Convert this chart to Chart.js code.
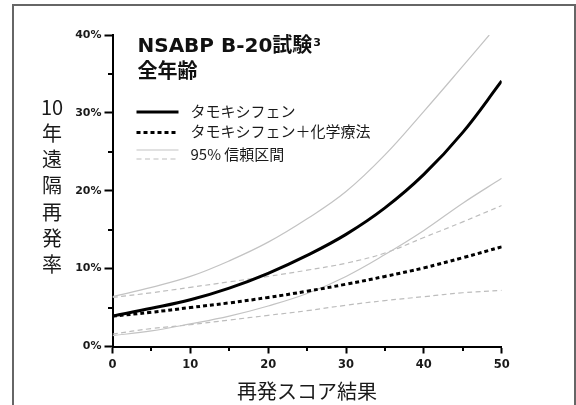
<!DOCTYPE html>
<html lang="ja">
<head>
<meta charset="utf-8">
<script src="https://cdn.jsdelivr.net/npm/chart.js@4/dist/chart.umd.min.js"></script>
<style>
  html, body { margin: 0; padding: 0; background: #fff; }
  #wrap { position: relative; width: 576px; height: 405px; overflow: hidden; }
  #frame { position: absolute; left: 12px; top: 4px; width: 560px; height: 440px;
           border: 2px solid #666; pointer-events: none; }
  canvas { position: absolute; left: 0; top: 0; }
</style>
</head>
<body>
<div id="wrap">
  <canvas id="c" width="576" height="405"></canvas>
  <div id="frame"></div>
</div>
<script>
// Recurrence Score and 10-year distant recurrence (NSABP B-20, all ages)
const scores = [0, 5, 10, 15, 20, 25, 30, 35, 40, 45, 50];
const tamoxifen = [3.9, 4.9, 6.0, 7.5, 9.4, 11.7, 14.4, 17.8, 22.1, 27.5, 34.1];
const tamChemo = [3.9, 4.4, 5.0, 5.6, 6.3, 7.1, 8.0, 9.0, 10.1, 11.4, 12.8];
const tamUpperScores = [0, 5, 10, 15, 20, 25, 30, 35, 40, 45, 48.4];
const tamUpper = [6.4, 7.6, 9.0, 11.0, 13.4, 16.4, 19.9, 24.6, 30.2, 36.0, 40.0];
const tamLower = [1.4, 2.0, 2.9, 3.9, 5.2, 6.8, 9.0, 11.8, 14.9, 18.4, 21.6];
const chemoUpper = [6.3, 6.9, 7.6, 8.3, 9.0, 9.8, 10.7, 12.0, 14.0, 16.0, 18.1];
const chemoLower = [1.6, 2.3, 2.8, 3.4, 4.0, 4.6, 5.3, 5.9, 6.4, 6.9, 7.2];

const yTicks = [0, 10, 20, 30, 40];
const xTicks = [0, 10, 20, 30, 40, 50];
const yMinorTicks = [5, 15, 25, 35];
const xMinorTicks = [5, 15, 25, 35, 45];

const titleLine1 = 'NSABP B-20試験';
const titleSup = '3';
const titleLine2 = '全年齢';
const yTitleChars = ['10', '年', '遠', '隔', '再', '発', '率'];
const xTitle = '再発スコア結果';
const legendLabels = ['タモキシフェン', 'タモキシフェン＋化学療法', '95% 信頼区間'];

const FONT = "'DejaVu Sans', 'Noto Sans CJK JP', sans-serif";
const CJK = "'Noto Sans CJK JP', 'DejaVu Sans', sans-serif";
const CI_SOLID = '#c3c3c3';
const CI_DASH = '#bdbdbd';

const pts = (xs, ys) => xs.map((x, i) => ({ x, y: ys[i] }));

const lineBase = { pointRadius: 0, fill: false, tension: 0.4 };

// Minor tick marks at the 5-unit steps on both axes
const minorTicks = {
  id: 'minorTicks',
  afterDraw(chart) {
    const { ctx, chartArea, scales } = chart;
    ctx.save();
    ctx.strokeStyle = '#000';
    ctx.lineWidth = 2;
    ctx.beginPath();
    yMinorTicks.forEach(v => {
      const y = Math.round(scales.y.getPixelForValue(v));
      ctx.moveTo(chartArea.left - 4.5, y);
      ctx.lineTo(chartArea.left, y);
    });
    xMinorTicks.forEach(v => {
      const x = Math.round(scales.x.getPixelForValue(v));
      ctx.moveTo(x, chartArea.bottom);
      ctx.lineTo(x, chartArea.bottom + 4.5);
    });
    ctx.stroke();
    ctx.restore();
  }
};

// Heading, stacked vertical y-axis title and legend
const annotations = {
  id: 'annotations',
  afterDraw(chart) {
    const { ctx, chartArea } = chart;
    const L = chartArea.left;
    ctx.save();
    ctx.fillStyle = '#111';

    // heading
    ctx.textAlign = 'left';
    ctx.textBaseline = 'alphabetic';
    ctx.font = `bold 20px ${FONT}`;
    ctx.fillText(titleLine1, L + 25, 52);
    const w = ctx.measureText(titleLine1).width;
    ctx.font = `bold 11px ${FONT}`;
    ctx.fillText(titleSup, L + 25 + w + 1, 46);
    ctx.font = `bold 20px ${CJK}`;
    ctx.textBaseline = 'middle';
    ctx.fillText(titleLine2, L + 25, 70);

    // y-axis title, one character per line
    ctx.textAlign = 'center';
    ctx.textBaseline = 'middle';
    ctx.font = `20px ${CJK}`;
    ctx.fillStyle = '#1a1a1a';
    yTitleChars.forEach((ch, i) => ctx.fillText(ch, 52, 107 + i * 26.3));

    // legend
    const x0 = L + 24, x1 = L + 66, tx = L + 78;
    ctx.font = `15px ${CJK}`;
    ctx.textAlign = 'left';
    ctx.fillStyle = '#1a1a1a';
    const seg = (y, color, width, dash) => {
      ctx.beginPath();
      ctx.strokeStyle = color;
      ctx.lineWidth = width;
      ctx.setLineDash(dash);
      ctx.moveTo(x0, y);
      ctx.lineTo(x1, y);
      ctx.stroke();
    };
    seg(112, '#000', 3, []);
    ctx.fillText(legendLabels[0], tx, 111);
    seg(132.5, '#000', 3, [4, 3]);
    ctx.fillText(legendLabels[1], tx, 131.5);
    seg(150, CI_SOLID, 1.2, []);
    seg(159, CI_DASH, 1.2, [5, 3.5]);
    ctx.setLineDash([]);
    ctx.fillText(legendLabels[2], tx, 154);
    ctx.restore();
  }
};

new Chart(document.getElementById('c'), {
  type: 'line',
  data: {
    datasets: [
      { ...lineBase, label: legendLabels[0], data: pts(scores, tamoxifen),
        borderColor: '#000', borderWidth: 3 },
      { ...lineBase, label: legendLabels[1], data: pts(scores, tamChemo),
        borderColor: '#000', borderWidth: 3, borderDash: [4, 3] },
      { ...lineBase, label: 'tamUpper', data: pts(tamUpperScores, tamUpper),
        borderColor: CI_SOLID, borderWidth: 1.2 },
      { ...lineBase, label: 'tamLower', data: pts(scores, tamLower),
        borderColor: CI_SOLID, borderWidth: 1.2 },
      { ...lineBase, label: 'chemoUpper', data: pts(scores, chemoUpper),
        borderColor: CI_DASH, borderWidth: 1.2, borderDash: [5, 3.5] },
      { ...lineBase, label: 'chemoLower', data: pts(scores, chemoLower),
        borderColor: CI_DASH, borderWidth: 1.2, borderDash: [5, 3.5] }
    ]
  },
  options: {
    responsive: false,
    animation: false,
    events: [],
    layout: { padding: { top: 35, right: 74.3, bottom: 0, left: 0 } },
    plugins: { legend: { display: false }, tooltip: { enabled: false }, title: { display: false } },
    scales: {
      x: {
        type: 'linear', min: 0, max: 50,
        afterFit: s => { s.height = 58.5; },
        afterBuildTicks: s => { s.ticks = xTicks.map(v => ({ value: v })); },
        grid: { drawOnChartArea: false, drawTicks: true, tickLength: 7, tickWidth: 2, tickColor: '#000' },
        border: { display: true, color: '#000', width: 2 },
        ticks: { color: '#1a1a1a', padding: 5, maxRotation: 0,
                 font: { family: FONT, size: 11.5, weight: 'bold' } },
        title: { display: true, text: xTitle, color: '#1a1a1a',
                 padding: { top: 0, bottom: 2 }, font: { family: CJK, size: 20 } }
      },
      y: {
        type: 'linear', min: 0, max: 40,
        afterFit: s => { s.width = 112.5; },
        afterBuildTicks: s => { s.ticks = yTicks.map(v => ({ value: v })); },
        grid: { drawOnChartArea: false, drawTicks: true, tickLength: 8, tickWidth: 2, tickColor: '#000' },
        border: { display: true, color: '#000', width: 2 },
        ticks: { color: '#1a1a1a', padding: 3,
                 callback: v => v + '%',
                 font: { family: FONT, size: 11, weight: 'bold' } }
      }
    }
  },
  plugins: [minorTicks, annotations]
});
</script>
</body>
</html>
